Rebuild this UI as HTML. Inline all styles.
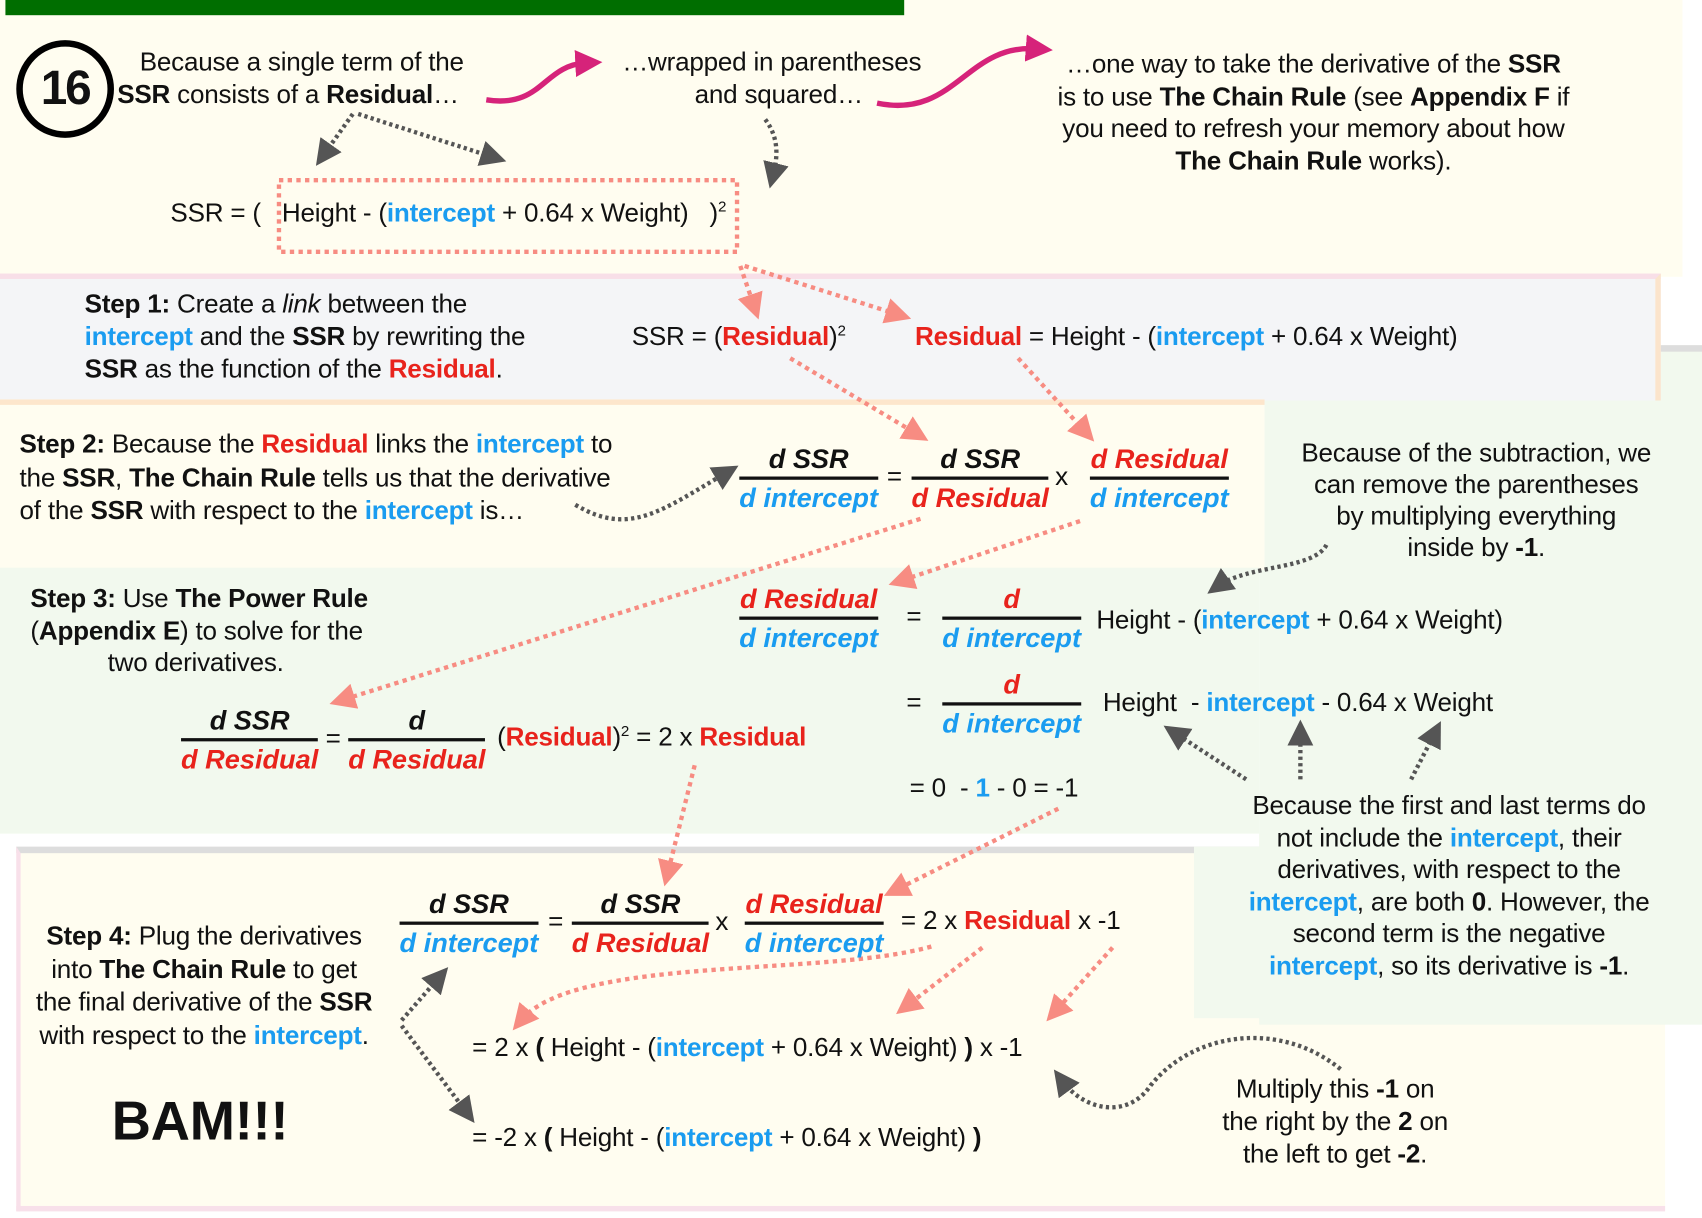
<!DOCTYPE html>
<html><head><meta charset="utf-8">
<style>
html,body{margin:0;padding:0;background:#fff;width:1702px;height:1218px;overflow:hidden}
#s{position:absolute;left:0;top:0;width:1568px;height:1122px;transform:scale(1.08546);transform-origin:0 0;font-family:"Liberation Sans",Arial,sans-serif;color:#111}
.p{position:absolute}
.t{position:absolute;font-size:24px;line-height:30px;white-space:nowrap;letter-spacing:-0.2px}
.c{transform:translateX(-50%);text-align:center}
.b{color:#1a9cf0;font-weight:bold}.r{color:#e8231c;font-weight:bold}
.fr{position:absolute;transform:translateX(-50%);text-align:center;font-weight:bold;font-style:italic;font-size:25px;line-height:30px;white-space:nowrap}
.fr .n{padding:0 2px}
.fr .l{height:3px;background:#111;margin:1px 0 2px}
sup{font-size:14px;line-height:0;vertical-align:9px}
</style></head><body>
<div id="s">
<!-- panels -->
<div class="p" style="left:0;top:0;width:1550px;height:255px;background:#fffdf0"></div>
<div class="p" style="left:15px;top:780px;width:1515px;height:325px;background:#fffdf0;border-top:6px solid #ddd;border-bottom:5px solid #f8e0ea;border-left:4px solid #f8e0ea"></div>
<div class="p" style="left:1160px;top:318px;width:408px;height:620px;background:#f2f9ee;border-top:6px solid #ddd"></div>
<div class="p" style="left:1100px;top:780px;width:70px;height:158px;background:#f2f9ee"></div>
<div class="p" style="left:0;top:252px;width:1525px;height:112px;background:#f4f5f7;border-top:5px solid #f8dfe8;border-right:5px solid #fbe4cc"></div>
<div class="p" style="left:0;top:368px;width:1165px;height:152px;background:#fffdf0;border-top:5px solid #fde6cc"></div>
<div class="p" style="left:0;top:523px;width:1160px;height:245px;background:#f2f9ee"></div>
<div class="p" style="left:5px;top:0;width:828px;height:14px;background:#006e00"></div>

<!-- arrows -->
<svg class="p" style="left:0;top:0" width="1568" height="1122">
<defs>
<marker id="ag" markerWidth="6" markerHeight="6" refX="3" refY="3" orient="auto" markerUnits="strokeWidth"><path d="M0,0 L6,3 L0,6 z" fill="#555"/></marker>
<marker id="ar" markerWidth="6" markerHeight="6" refX="3" refY="3" orient="auto" markerUnits="strokeWidth"><path d="M0,0 L6,3 L0,6 z" fill="#f78c82"/></marker>
<marker id="ap" markerWidth="5" markerHeight="5" refX="2" refY="2.5" orient="auto" markerUnits="strokeWidth"><path d="M0,0 L5,2.5 L0,5 z" fill="#d6237a"/></marker>
</defs>
<g fill="none" stroke="#d6237a" stroke-width="5">
<path d="M448,92 C500,100 500,60 540,58" marker-end="url(#ap)"/>
<path d="M808,95 C880,110 890,40 955,45" marker-end="url(#ap)"/>
</g>
<g fill="none" stroke="#555" stroke-width="4" stroke-dasharray="3 3">
<path d="M325,105 L298,143" marker-end="url(#ag)"/>
<path d="M330,105 L455,145" marker-end="url(#ag)"/>
<path d="M705,110 C720,130 715,150 712,162" marker-end="url(#ag)"/>
<path d="M530,465 C580,495 610,470 670,435" marker-end="url(#ag)"/>
<path d="M1222,502 C1210,525 1150,520 1122,540" marker-end="url(#ag)"/>
<path d="M1148,718 L1082,675" marker-end="url(#ag)"/>
<path d="M1198,718 L1198,675" marker-end="url(#ag)"/>
<path d="M1300,718 L1322,675" marker-end="url(#ag)"/>
<path d="M370,940 L405,900" marker-end="url(#ag)"/>
<path d="M370,945 L430,1025" marker-end="url(#ag)"/>
<path d="M1235,985 C1180,940 1100,950 1060,1000 C1040,1030 1000,1025 978,995" marker-end="url(#ag)"/>
</g>
<g fill="none" stroke="#f78c82" stroke-width="4" stroke-dasharray="4 4">
<path d="M682,245 L695,283" marker-end="url(#ar)"/>
<path d="M686,245 L828,290" marker-end="url(#ar)"/>
<path d="M728,330 L845,400" marker-end="url(#ar)"/>
<path d="M938,330 L1000,398" marker-end="url(#ar)"/>
<path d="M848,478 L315,645" marker-end="url(#ar)"/>
<path d="M995,480 L830,535" marker-end="url(#ar)"/>
<path d="M640,705 L615,805" marker-end="url(#ar)"/>
<path d="M975,745 L825,820" marker-end="url(#ar)"/>
<path d="M858,872 C760,900 530,880 480,940" marker-end="url(#ar)"/>
<path d="M905,873 L835,927" marker-end="url(#ar)"/>
<path d="M1025,873 L972,932" marker-end="url(#ar)"/>
</g>
<rect x="257" y="166" width="422" height="66" fill="none" stroke="#f78c82" stroke-width="4" stroke-dasharray="4 4"/>
</svg>

<!-- top -->
<div class="p" style="left:15px;top:37px;width:78px;height:78px;border:6px solid #000;border-radius:50%;font-weight:bold;font-size:44px;line-height:78px;text-align:center;letter-spacing:-2px">16</div>
<div class="t c" style="left:278px;top:43px">Because a single term of the</div>
<div class="t" style="left:108px;top:73px"><b>SSR</b> consists of a <b>Residual</b>…</div>
<div class="t c" style="left:711px;top:43px">…wrapped in parentheses<br>&nbsp;&nbsp;and squared…</div>
<div class="t c" style="left:1210px;top:45px;line-height:29.7px">…one way to take the derivative of the <b>SSR</b><br>is to use <b>The Chain Rule</b> (see <b>Appendix F</b> if<br>you need to refresh your memory about how<br><b>The Chain Rule</b> works).</div>
<div class="t" style="left:157px;top:182px">SSR = (&nbsp;&nbsp;&nbsp;Height - (<span class="b">intercept</span> + 0.64 x Weight)&nbsp;&nbsp;&nbsp;)<sup>2</sup></div>

<!-- step1 -->
<div class="t" style="left:78px;top:266px"><b>Step 1:</b> Create a <i>link</i> between the<br><span class="b">intercept</span> and the <b>SSR</b> by rewriting the<br><b>SSR</b> as the function of the <span class="r">Residual</span>.</div>
<div class="t" style="left:582px;top:296px">SSR = (<span class="r">Residual</span>)<sup>2</sup></div>
<div class="t" style="left:843px;top:296px"><span class="r">Residual</span> = Height - (<span class="b">intercept</span> + 0.64 x Weight)</div>

<!-- step2 -->
<div class="t" style="left:18px;top:395px;line-height:30.5px"><b>Step 2:</b> Because the <span class="r">Residual</span> links the <span class="b">intercept</span> to<br>the <b>SSR</b>, <b>The Chain Rule</b> tells us that the derivative<br>of the <b>SSR</b> with respect to the <span class="b">intercept</span> is…</div>
<div class="fr" style="left:745px;top:408px"><div class="n">d SSR</div><div class="l"></div><div class="b">d intercept</div></div>
<div class="t" style="left:817px;top:425px">=</div>
<div class="fr" style="left:903px;top:408px"><div class="n">d SSR</div><div class="l"></div><div class="r">d Residual</div></div>
<div class="t" style="left:972px;top:425px">x</div>
<div class="fr" style="left:1068px;top:408px"><div class="r">d Residual</div><div class="l"></div><div class="b">d intercept</div></div>
<div class="t c" style="left:1360px;top:403px;line-height:29px">Because of the subtraction, we<br>can remove the parentheses<br>by multiplying everything<br>inside by <b>-1</b>.</div>

<!-- step3 -->
<div class="t" style="left:28px;top:537px;line-height:29.5px"><b>Step 3:</b> Use <b>The Power Rule</b><br>(<b>Appendix E</b>) to solve for the<br>&nbsp;&nbsp;&nbsp;&nbsp;&nbsp;&nbsp;&nbsp;&nbsp;&nbsp;&nbsp;&nbsp;two derivatives.</div>
<div class="fr" style="left:745px;top:537px"><div class="r">d Residual</div><div class="l"></div><div class="b">d intercept</div></div>
<div class="t" style="left:835px;top:554px">=</div>
<div class="fr" style="left:932px;top:537px"><div class="r">d</div><div class="l"></div><div class="b">d intercept</div></div>
<div class="t" style="left:1010px;top:557px">Height - (<span class="b">intercept</span> + 0.64 x Weight)</div>
<div class="t" style="left:835px;top:633px">=</div>
<div class="fr" style="left:932px;top:616px"><div class="r">d</div><div class="l"></div><div class="b">d intercept</div></div>
<div class="t" style="left:1016px;top:633px">Height &nbsp;- <span class="b">intercept</span> - 0.64 x Weight</div>
<div class="t" style="left:838px;top:712px">= 0 &nbsp;- <span class="b">1</span> - 0 = -1</div>
<div class="fr" style="left:230px;top:649px"><div class="n">d SSR</div><div class="l"></div><div class="r">d Residual</div></div>
<div class="t" style="left:300px;top:666px">=</div>
<div class="fr" style="left:384px;top:649px"><div class="n">d</div><div class="l"></div><div class="r">d Residual</div></div>
<div class="t" style="left:458px;top:665px">(<span class="r">Residual</span>)<sup>2</sup> = 2 x <span class="r">Residual</span></div>
<div class="t c" style="left:1335px;top:728px;line-height:29.6px">Because the first and last terms do<br>not include the <span class="b">intercept</span>, their<br>derivatives, with respect to the<br><span class="b">intercept</span>, are both <b>0</b>. However, the<br>second term is the negative<br><span class="b">intercept</span>, so its derivative is <b>-1</b>.</div>

<!-- step4 -->
<div class="t c" style="left:188px;top:848px;line-height:30.5px"><b>Step 4:</b> Plug the derivatives<br>into <b>The Chain Rule</b> to get<br>the final derivative of the <b>SSR</b><br>with respect to the <span class="b">intercept</span>.</div>
<div class="fr" style="left:432px;top:818px"><div class="n">d SSR</div><div class="l"></div><div class="b">d intercept</div></div>
<div class="t" style="left:505px;top:835px">=</div>
<div class="fr" style="left:590px;top:818px"><div class="n">d SSR</div><div class="l"></div><div class="r">d Residual</div></div>
<div class="t" style="left:659px;top:835px">x</div>
<div class="fr" style="left:750px;top:818px"><div class="r">d Residual</div><div class="l"></div><div class="b">d intercept</div></div>
<div class="t" style="left:830px;top:834px">= 2 x <span class="r">Residual</span> x -1</div>
<div class="t" style="left:435px;top:951px">= 2 x <b>(</b> Height - (<span class="b">intercept</span> + 0.64 x Weight) <b>)</b> x -1</div>
<div class="t" style="left:435px;top:1034px">= -2 x <b>(</b> Height - (<span class="b">intercept</span> + 0.64 x Weight) <b>)</b></div>
<div class="t" style="left:103px;top:1005px;font-size:50px;line-height:56px;font-weight:bold">BAM!!!</div>
<div class="t c" style="left:1230px;top:989px">Multiply this <b>-1</b> on<br>the right by the <b>2</b> on<br>the left to get <b>-2</b>.</div>
</div>
</body></html>
